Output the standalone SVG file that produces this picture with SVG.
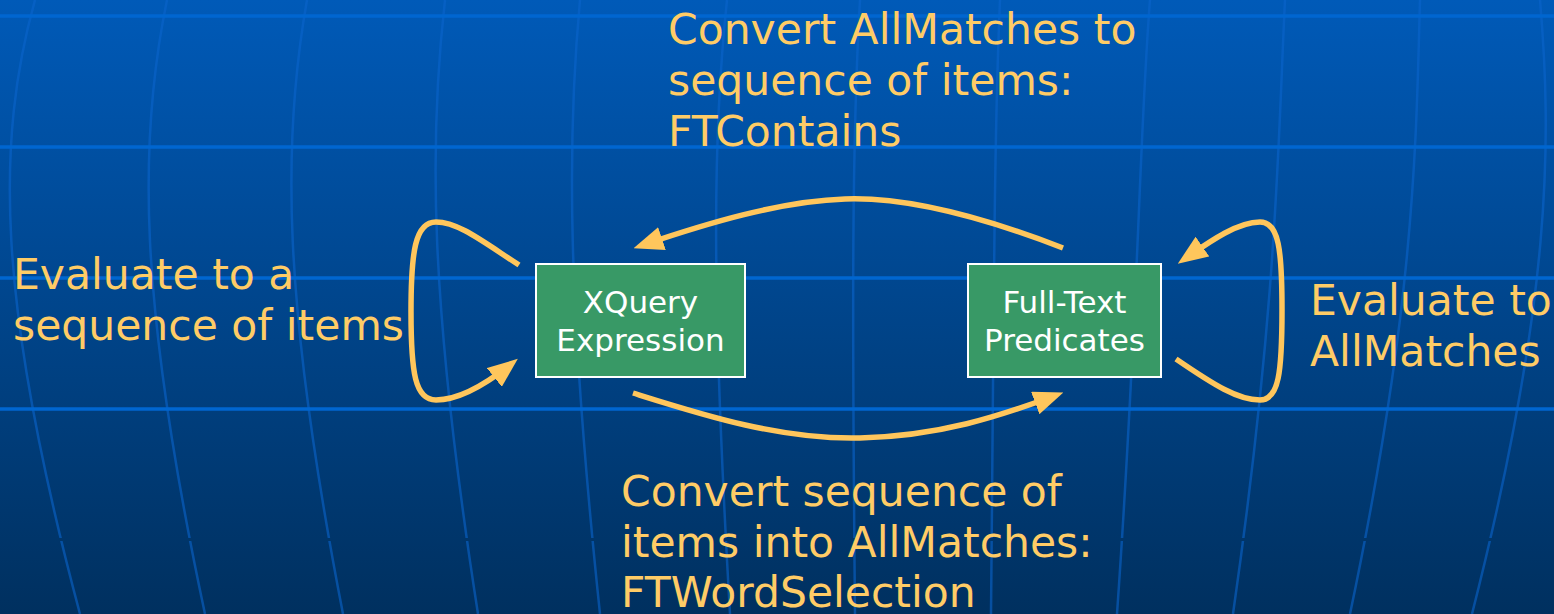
<svg xmlns="http://www.w3.org/2000/svg" width="1554" height="614" viewBox="0 0 1554 614">
  <defs>
    <linearGradient id="bg" x1="0" y1="0" x2="0" y2="614" gradientUnits="userSpaceOnUse">
      <stop offset="0" stop-color="#005ab8"/>
      <stop offset="1" stop-color="#00305f"/>
    </linearGradient>
    <marker id="arrow" viewBox="0 0 30 24" refX="20" refY="12" markerWidth="30" markerHeight="24" markerUnits="userSpaceOnUse" orient="auto">
      <path d="M0,0 L30,12 L0,24 z" fill="#ffc65c"/>
    </marker>
    <style>
      .hline { stroke: #0066d0; stroke-width: 3.5; fill: none; }
      .vline { stroke: #0a64cc; stroke-width: 2.5; fill: none; opacity: 0.6; }
      .conn { stroke: #ffc65c; stroke-width: 5.5; fill: none; stroke-linecap: butt; stroke-linejoin: round; }
      .box { fill: #389966; stroke: #ffffff; stroke-width: 2; }
      .boxtext { font-family: "DejaVu Sans", Verdana, sans-serif; font-size: 31px; fill: #ffffff; text-anchor: middle; }
      .label { font-family: "DejaVu Sans", Verdana, sans-serif; font-size: 42.5px; fill: #ffcc66; }
    </style>
  </defs>

  <g id="background">
    <rect x="0" y="0" width="1554" height="614" fill="url(#bg)"/>
    <path class="vline" d="M35,0 C-4,140 -4,300 80,614"/>
    <path class="vline" d="M167,0 C138,140 138,300 205,614"/>
    <path class="vline" d="M307,0 C282,140 282,300 343,614"/>
    <path class="vline" d="M445,0 C429,140 429,300 478,614"/>
    <path class="vline" d="M580,0 C567,140 567,300 600,614"/>
    <path class="vline" d="M727,0 C712,140 712,300 730,614"/>
    <path class="vline" d="M860,0 C852,140 852,300 855,614"/>
    <path class="vline" d="M1000,0 C994,140 994,300 991,614"/>
    <path class="vline" d="M1150,0 C1139,140 1139,300 1117,614"/>
    <path class="vline" d="M1285,0 C1278,140 1278,300 1233,614"/>
    <path class="vline" d="M1420,0 C1416,140 1416,300 1350,614"/>
    <path class="vline" d="M1540,0 C1552,140 1552,300 1472,614"/>
    <rect x="0" y="538" width="1554" height="3" fill="url(#bg)"/>
    <line class="hline" x1="0" y1="16" x2="1554" y2="16"/>
    <line class="hline" x1="0" y1="147" x2="1554" y2="147"/>
    <line class="hline" x1="0" y1="278" x2="1554" y2="278"/>
    <line class="hline" x1="0" y1="409" x2="1554" y2="409"/>
  </g>

  <g id="connectors">
    <path class="conn" marker-end="url(#arrow)" d="M1063,248 C970,212 900,197 845,199 C780,201 705,224 643,245"/>
    <path class="conn" marker-end="url(#arrow)" d="M633,393 C700,414 780,440 860,438 C940,436 1000,416 1054,396"/>
    <path class="conn" marker-end="url(#arrow)" d="M519,265 C482,241 458,222 436,222 C415,222 411,252 411,312 C411,373 415,400 436,400 C460,400 486,384 510,365"/>
    <path class="conn" marker-end="url(#arrow)" d="M1176,359 C1214,385 1238,400 1260,400 C1279,400 1282,372 1282,310 C1282,250 1279,222 1260,222 C1238,222 1212,240 1186,258"/>
  </g>

  <g id="node-xquery">
    <rect class="box" x="536" y="264" width="209" height="113"/>
    <text class="boxtext" x="640.5" y="313">XQuery</text>
    <text class="boxtext" x="640.5" y="351">Expression</text>
  </g>

  <g id="node-fulltext">
    <rect class="box" x="968" y="264" width="193" height="113"/>
    <text class="boxtext" x="1064.5" y="313">Full-Text</text>
    <text class="boxtext" x="1064.5" y="351">Predicates</text>
  </g>

  <g id="labels">
    <text class="label" x="668" y="44">Convert AllMatches to</text>
    <text class="label" x="668" y="95">sequence of items:</text>
    <text class="label" x="668" y="146">FTContains</text>

    <text class="label" x="13" y="289">Evaluate to a</text>
    <text class="label" x="13" y="340">sequence of items</text>

    <text class="label" x="1310" y="315">Evaluate to</text>
    <text class="label" x="1310" y="366">AllMatches</text>

    <text class="label" x="621" y="506">Convert sequence of</text>
    <text class="label" x="621" y="557">items into AllMatches:</text>
    <text class="label" x="621" y="607">FTWordSelection</text>
  </g>
</svg>
